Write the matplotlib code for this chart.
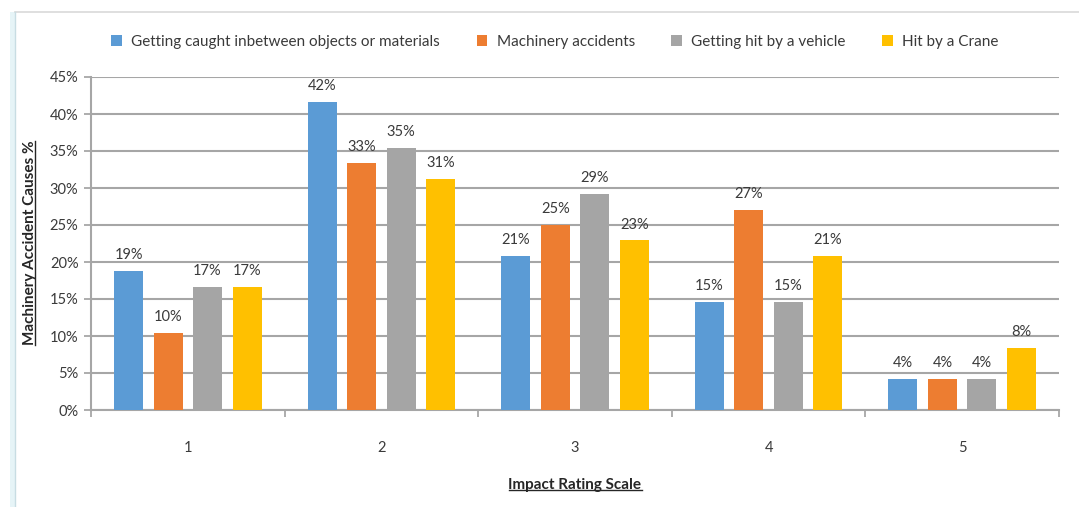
import matplotlib
matplotlib.use("Agg")
import matplotlib.pyplot as plt
import numpy as np
from matplotlib.lines import Line2D
from matplotlib.patches import Rectangle

categories = ["1", "2", "3", "4", "5"]
series_names = ["Getting caught inbetween objects or materials", "Machinery accidents",
                "Getting hit by a vehicle", "Hit by a Crane"]
caught = [18.75, 41.67, 20.83, 14.58, 4.17]
machinery = [10.42, 33.33, 25.0, 27.08, 4.17]
vehicle = [16.67, 35.42, 29.17, 14.58, 4.17]
crane = [16.67, 31.25, 22.92, 20.83, 8.33]
yticks = [0, 5, 10, 15, 20, 25, 30, 35, 40, 45]

colors = ["#5B9BD5", "#ED7D31", "#A5A5A5", "#FFC000"]
txt = "#3A3A3A"
plt.rcParams['font.family'] = ['Lato', 'DejaVu Sans']

fig = plt.figure(figsize=(10.79, 5.07), dpi=100)
ax = fig.add_axes([91/1079, 1-410/507, (1059-91)/1079, (410-77)/507])

x = np.arange(len(categories))
w = 0.15
step = 0.204
data = [caught, machinery, vehicle, crane]
for i, (vals, c, name) in enumerate(zip(data, colors, series_names)):
    pos = x + (i - 1.5) * step
    bars = ax.bar(pos, vals, w, color=c, label=name, zorder=3)
    for b, v in zip(bars, vals):
        ax.text(b.get_x() + b.get_width()/2, v + 1.2, f"{round(v):d}%", ha='center', va='bottom',
                fontsize=10.5, color=txt, zorder=4)

ax.set_xlim(-0.5, 4.5)
ax.set_ylim(0, 45)
ax.set_yticks(yticks)
ax.set_yticklabels([f"{t}%" for t in yticks], fontsize=10.5, color=txt)
ax.set_xticks(x)
ax.set_xticklabels(categories, fontsize=10.5, color=txt)
ax.tick_params(axis='x', length=0, pad=22)
ax.set_xticks(np.arange(-0.5, 5, 1), minor=True)
ax.tick_params(axis='x', which='minor', length=5, color='#A0A0A0', width=1.2, direction='out')
ax.tick_params(axis='y', length=5, color='#A0A0A0', width=1.2, pad=4)
ax.grid(axis='y', color='#A6A6A6', linewidth=1.5, zorder=0)
for s in ['top', 'right']:
    ax.spines[s].set_visible(False)
for s in ['left', 'bottom']:
    ax.spines[s].set_color('#A6A6A6')
    ax.spines[s].set_linewidth(1.5)

# axis titles
xl = fig.text(575/1079, 1-485/507, "Impact Rating Scale", ha='center', va='center',
              fontsize=11, fontweight='bold', color='#262626')
yl = fig.text(30/1079, 1-243/507, "Machinery Accident Causes %", ha='center', va='center',
              rotation=90, fontsize=11, fontweight='bold', color='#262626')

leg = fig.legend(loc='center', bbox_to_anchor=(555/1079, 1-42/507), ncol=4, frameon=False,
                 fontsize=11, handlelength=0.7, handleheight=0.7, columnspacing=2.4,
                 handletextpad=0.6, labelcolor=txt)

# border and left stripe
fig.add_artist(Line2D([15/1079, 1.0], [1-12/507, 1-12/507], color='#D9D9D9', lw=1.2))
fig.add_artist(Rectangle((10/1079, 0), 6/1079, 1-12/507, color='#E6F4F7', lw=0))
fig.add_artist(Line2D([15/1079, 15/1079], [0, 1-12/507], color='#C8DDE3', lw=1))

# underlines
fig.canvas.draw()
r = fig.canvas.get_renderer()
inv = fig.transFigure.inverted()
bb = xl.get_window_extent(r)
(x0, y0), (x1, y1) = inv.transform([[bb.x0, bb.y0], [bb.x1, bb.y1]])
fig.add_artist(Line2D([x0, x1], [y0 + 0.004, y0 + 0.004], color='#262626', lw=1))
bb = yl.get_window_extent(r)
(x0, y0), (x1, y1) = inv.transform([[bb.x0, bb.y0], [bb.x1, bb.y1]])
fig.add_artist(Line2D([x1 - 0.002, x1 - 0.002], [y0, y1], color='#262626', lw=1))

fig.savefig("out.png", dpi=100)
